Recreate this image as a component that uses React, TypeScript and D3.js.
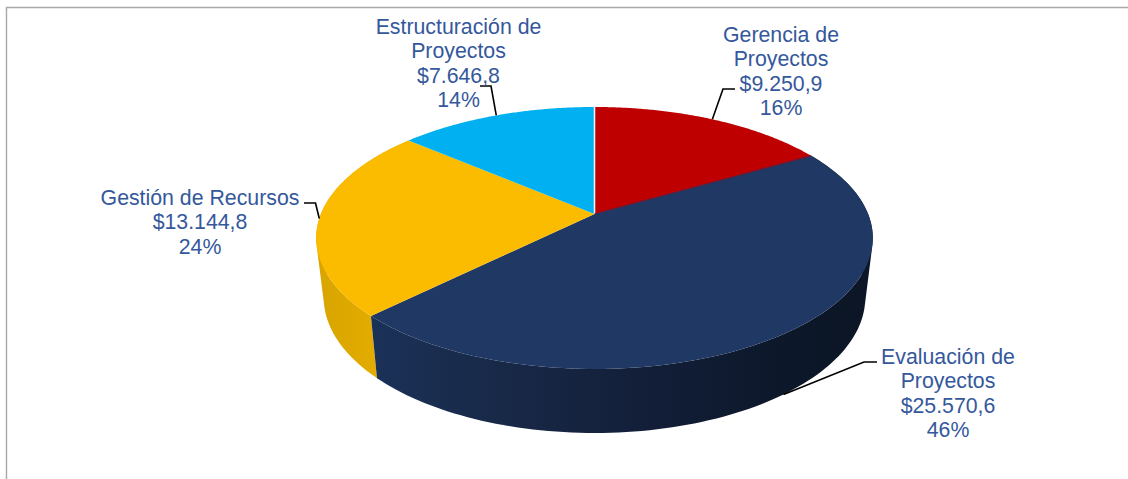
import React from "react";
import * as d3 from "d3";

const categories = [
  ["Gerencia de", "Proyectos"],
  ["Evaluación de", "Proyectos"],
  ["Gestión de Recursos"],
  ["Estructuración de", "Proyectos"],
];
const values = [9250.9, 25570.6, 13144.8, 7646.8];
const valueLabels = ["$9.250,9", "$25.570,6", "$13.144,8", "$7.646,8"];
const percentLabels = ["16%", "46%", "24%", "14%"];
const topColors = ["#bf0000", "#1f3864", "#fbbc00", "#00b0f0"];

// layout of the labels (not data)
const labelX = [781, 948, 200, 458.5];
const labelY = [34.5, 356.5, 197.5, 26.5];
const elbows: [number, number][][] = [
  [[735, 89], [723, 89]],
  [[877, 362], [864, 362]],
  [[304, 203], [315.5, 203]],
  [[480, 86], [491, 86]],
];

const W = 1128;
const H = 479;
const cx = 594.5;
const cy = 214;
const A = 273.6;
const B = 126.6;
const K = 0.183;
const SIDE_X = 0.973;
const SIDE_Y = 1.035;
const DEPTH = 58.6;

type P = [number, number];
const top = (t: number): P => {
  const u = Math.sin(t), v = Math.cos(t), w = 1 + K * v;
  return [cx + (A * u) / w, cy - (B * v) / w];
};
const bottom = (t: number): P => {
  const [x, y] = top(t);
  return [cx + (x - cx) * SIDE_X, cy + DEPTH + (y - cy) * SIDE_Y];
};
const line = d3.line<P>();
const arcSamples = (a: number, b: number) => d3.range(0, 121).map((i) => a + ((b - a) * i) / 120);

const arcs = d3.pie<number>().sort(null).value((d) => d)(values);

const slicePath = (a: number, b: number) =>
  line([[cx, cy], ...arcSamples(a, b).map(top)]) + "Z";
// the side wall is the union of small quads between the top rim and the bottom rim,
// all wound the same way so that the overlaps near the silhouette do not cancel
const wallPath = (a: number, b: number) =>
  d3
    .pairs(arcSamples(a, b))
    .map(([t0, t1]) => {
      const quad: P[] = [top(t0), top(t1), bottom(t1), bottom(t0)];
      return line(d3.polygonArea(quad) < 0 ? quad.slice().reverse() : quad) + "Z";
    })
    .join("");

export default function App() {
  const textColor = "#34589b";
  return (
    <svg
      width={W}
      height={H}
      viewBox={`0 0 ${W} ${H}`}
      style={{ position: "absolute", left: 0, top: 0, display: "block" }}
    >
      <defs>
        <linearGradient id="navyWall" gradientUnits="userSpaceOnUse" x1={371} x2={864} y1={0} y2={0}>
          <stop offset="0" stopColor="#1b3158" />
          <stop offset="0.25" stopColor="#182948" />
          <stop offset="0.55" stopColor="#131f39" />
          <stop offset="0.85" stopColor="#0c1729" />
          <stop offset="1" stopColor="#0c1626" />
        </linearGradient>
        <linearGradient id="yellowWall" gradientUnits="userSpaceOnUse" x1={316} x2={378} y1={0} y2={0}>
          <stop offset="0" stopColor="#d8a400" />
          <stop offset="1" stopColor="#e3ac00" />
        </linearGradient>
      </defs>
      <rect width={W} height={H} fill="#ffffff" />
      <path d={`M${W},7.5H6.5V${H}`} fill="none" stroke="#a8a8a8" strokeWidth={1.4} />

      {/* walls */}
      <path d={wallPath(arcs[2].startAngle, arcs[2].endAngle)} fill="url(#yellowWall)" />
      <path d={wallPath(arcs[1].startAngle, arcs[1].endAngle)} fill="url(#navyWall)" />

      {/* top faces */}
      {arcs.map((a, i) => (
        <path key={i} d={slicePath(a.startAngle, a.endAngle)} fill={topColors[i]} />
      ))}
      {/* seams */}
      <path d={line([[cx, cy], top(0)])!} stroke="#e8f0f8" strokeWidth={1.6} fill="none" />
      <path d={line([[cx, cy], top(arcs[0].endAngle)])!} stroke="#5a1c3c" strokeWidth={1.2} fill="none" />

      {/* leader lines */}
      {arcs.map((a, i) => {
        const mid = (a.startAngle + a.endAngle) / 2;
        const anchor = i === 1 ? bottom(mid) : top(mid);
        return (
          <path key={i} d={line([...elbows[i], anchor])!} fill="none" stroke="#000000" strokeWidth={1.6} />
        );
      })}

      {/* labels */}
      {categories.map((c, i) => {
        const rows = [...c, valueLabels[i], percentLabels[i]];
        return (
          <text
            key={i}
            x={labelX[i]}
            textAnchor="middle"
            fontFamily="'Liberation Sans', Arial, sans-serif"
            fontSize={21.3}
            fill={textColor}
          >
            {rows.map((r, j) => (
              <tspan key={j} x={labelX[i]} y={labelY[i] + 7 + j * 24.6}>
                {r}
              </tspan>
            ))}
          </text>
        );
      })}
    </svg>
  );
}
